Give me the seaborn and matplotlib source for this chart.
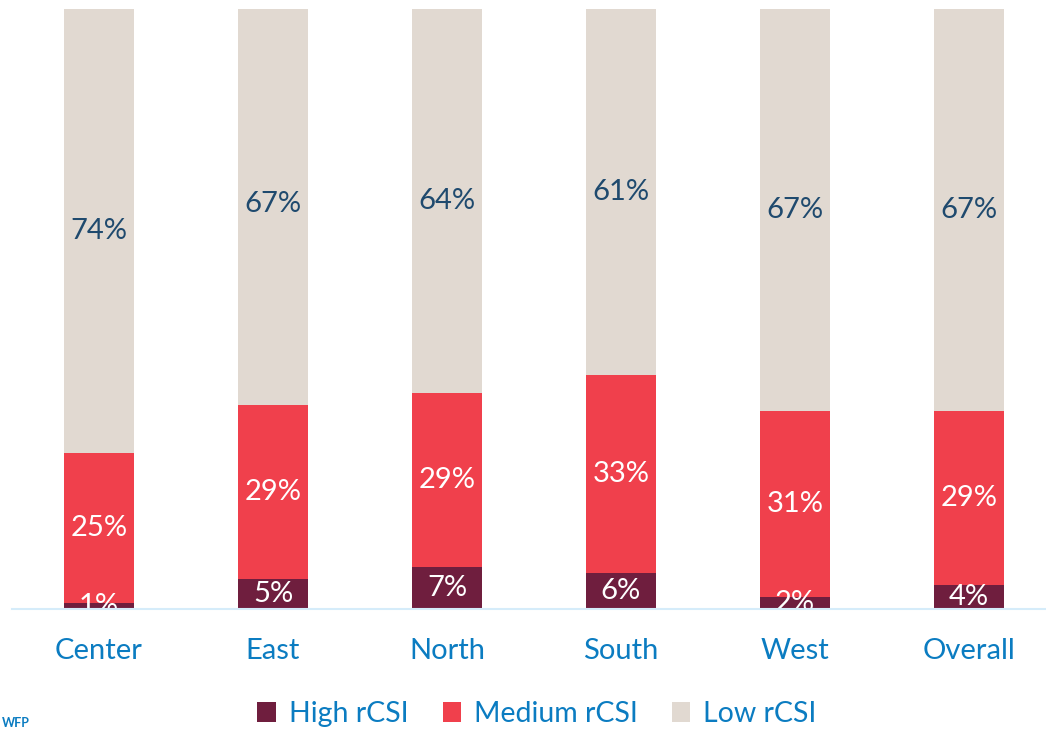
import matplotlib
matplotlib.use("Agg")
import matplotlib.pyplot as plt
from matplotlib.patches import Patch
import numpy as np
import pandas as pd
import seaborn as sns

# Share of households by reduced Coping Strategy Index (rCSI) level, by region
regions = ["Center", "East", "North", "South", "West", "Overall"]
high_rcsi = [1, 5, 7, 6, 2, 4]
medium_rcsi = [25, 29, 29, 33, 31, 29]
low_rcsi = [74, 67, 64, 61, 67, 67]

levels = ["High rCSI", "Medium rCSI", "Low rCSI"]
colors = {"High rCSI": "#6F1E3E", "Medium rCSI": "#F0404C", "Low rCSI": "#E1D9D1"}
label_colors = {"High rCSI": "white", "Medium rCSI": "white", "Low rCSI": "#1F4A6E"}
tick_blue = "#0B7CC1"

sns.set_theme(style="white")
plt.rcParams["font.family"] = ["Lato", "DejaVu Sans"]

df = pd.DataFrame({"region": regions, "High rCSI": high_rcsi,
                   "Medium rCSI": medium_rcsi, "Low rCSI": low_rcsi})
cum = df[levels].cumsum(axis=1)
bottoms = cum - df[levels]

fig = plt.figure(figsize=(10.46, 7.30), dpi=100)
ax = fig.add_axes([12 / 1046, 121.5 / 730, 1044 / 1046, 599.5 / 730])

# stacked bars drawn from the tallest cumulative layer down
for lvl in reversed(levels):
    sns.barplot(x=df["region"], y=cum[lvl], color=colors[lvl], width=0.4,
                saturation=1, ax=ax, order=regions, linewidth=0, zorder=2)

for i in range(len(regions)):
    for lvl in levels:
        v = df.loc[i, lvl]
        mid = bottoms.loc[i, lvl] + v / 2
        ax.text(i, mid, f"{v}%", ha="center", va="center", fontsize=21,
                color=label_colors[lvl], zorder=3, clip_on=True)

ax.set_xlim(-0.5, 5.5)
ax.set_ylim(0, 100)
ax.set_xlabel("")
ax.set_ylabel("")
ax.set_yticks([])
for s in ["top", "right", "left"]:
    ax.spines[s].set_visible(False)
ax.spines["bottom"].set_color("#D5ECFA")
ax.spines["bottom"].set_linewidth(1.5)
ax.spines["bottom"].set_zorder(4)
ax.tick_params(axis="x", length=0, pad=21, labelsize=21, labelcolor=tick_blue)

handles = [Patch(facecolor=colors[l], edgecolor="none", label=l) for l in levels]
fig.legend(handles=handles, loc="center", bbox_to_anchor=(537 / 1046, 1 - 714 / 730),
           ncol=3, frameon=False, fontsize=20.5, labelcolor=tick_blue,
           handlelength=0.65, handleheight=0.65, handletextpad=0.45, columnspacing=1.2)

fig.text(0.002, 1 / 730, "WFP", ha="left", va="bottom", fontsize=9,
         fontweight="bold", color=tick_blue)

fig.savefig("out.png", dpi=100)
